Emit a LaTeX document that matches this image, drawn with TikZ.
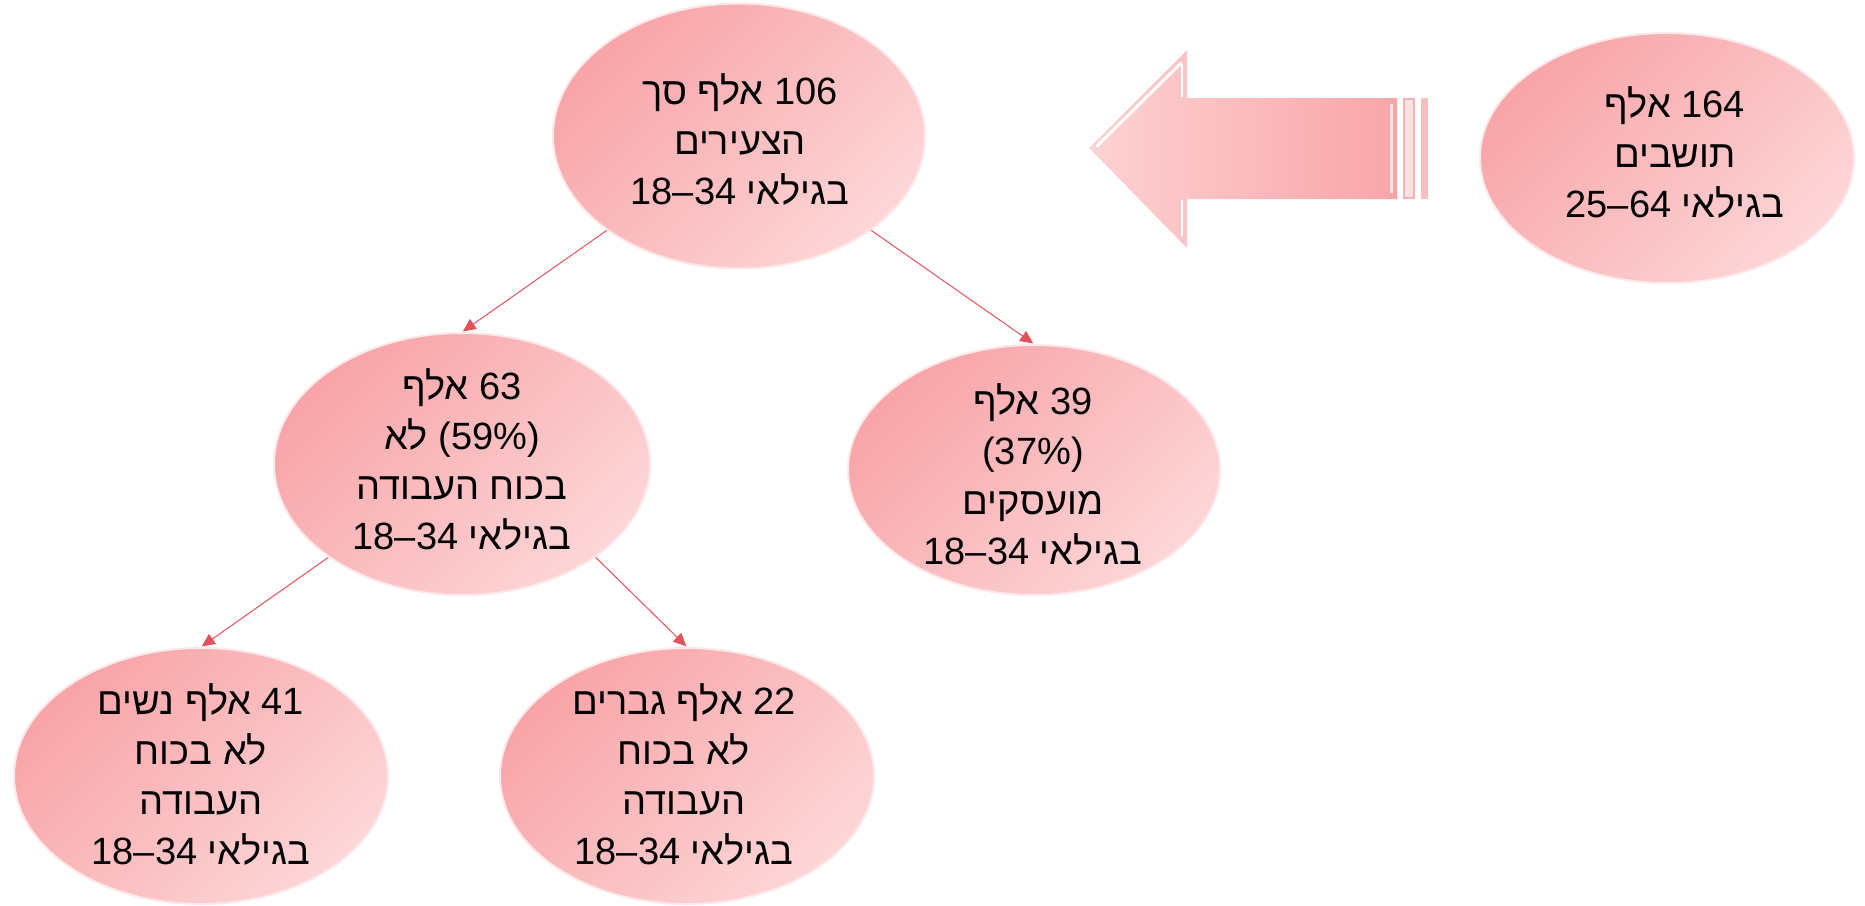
\documentclass[tikz,border=0pt]{standalone}
\usepackage{fontspec}
\setmainfont{Liberation Sans}
\newfontfamily\hebfont[Script=Hebrew]{Liberation Sans}
\newfontfamily\numfont{Liberation Sans}
\TeXXeTstate=1
\usetikzlibrary{shapes.geometric,arrows.meta}
\definecolor{pkdark}{RGB}{248,164,168}
\definecolor{pklight}{RGB}{253,214,215}
\definecolor{pkrim}{RGB}{253,232,233}
\definecolor{connred}{RGB}{226,82,90}
\definecolor{arrdark}{RGB}{249,165,168}
\definecolor{arrlight}{RGB}{253,210,211}
\definecolor{stripefill}{RGB}{252,226,227}
\definecolor{stripedraw}{RGB}{247,178,181}
\definecolor{stripetwo}{RGB}{249,190,192}
\newcommand\myR[1]{\beginR #1\endR}
\newcommand\myL[1]{\beginL{\numfont #1}\endL{}}
\tikzset{
  bubble/.style={ellipse, inner sep=0pt, top color=pkdark, bottom color=pklight,
    shading angle=45, draw=pkrim, line width=2pt},
  txt/.style={font=\hebfont\fontsize{38}{50}\selectfont, align=center, inner sep=0pt, text=black},
  conn/.style={draw=connred, line width=1pt, -{Triangle[length=13pt,width=12pt]}, shorten >=1pt}
}
\begin{document}
\begin{tikzpicture}[x=1pt,y=-1pt]
\useasboundingbox (0,0) rectangle (1865,905);

% big arrow
\path[left color=arrlight, right color=arrdark]
  (1089,148) -- (1187,50) -- (1187,98) -- (1397,98) -- (1397,199) -- (1187,199) -- (1187,248) -- cycle;
\draw[white, line width=3pt, line cap=round] (1097,146) -- (1181,63);
\draw[white, line width=2.5pt] (1182,64) -- (1182,97);
\draw[white, line width=2.5pt] (1182,200) -- (1182,236);
\draw[white, opacity=0.7, line width=3pt] (1391,104) -- (1391,193);
\draw[fill=stripefill, draw=stripedraw, line width=2pt] (1404,99) rectangle (1414,198);
\fill[stripetwo] (1421,98) rectangle (1428,199);

% ellipses
\node[bubble, minimum width=372pt, minimum height=265pt] (A) at (739,136) {};
\node[bubble, minimum width=374pt, minimum height=250pt] (R) at (1667,158) {};
\node[bubble, minimum width=376pt, minimum height=262pt] (B) at (462,464) {};
\node[bubble, minimum width=372pt, minimum height=250pt] (C) at (1034,470) {};
\node[bubble, minimum width=374pt, minimum height=256pt] (D) at (201,776) {};
\node[bubble, minimum width=374pt, minimum height=256pt] (E) at (687,776) {};

% texts
\node[txt] (At) at (740,139) {\myR{\myL{106} אלף סך}\\ \myR{הצעירים}\\ \myR{בגילאי \myL{18–34}}};
\node[txt] (Rt) at (1675,152) {\myR{\myL{164} אלף}\\ \myR{תושבים}\\ \myR{בגילאי \myL{25–64}}};
\node[txt] (Bt) at (462,459) {\myR{\myL{63} אלף}\\ \myR{\myL{(59\%)} לא}\\ \myR{בכוח העבודה}\\ \myR{בגילאי \myL{18–34}}};
\node[txt] (Ct) at (1033,474) {\myR{\myL{39} אלף}\\ \myR{\myL{(37\%)}}\\ \myR{מועסקים}\\ \myR{בגילאי \myL{18–34}}};
\node[txt] (Dt) at (201,774) {\myR{\myL{41} אלף נשים}\\ \myR{לא בכוח}\\ \myR{העבודה}\\ \myR{בגילאי \myL{18–34}}};
\node[txt] (Et) at (684,774) {\myR{\myL{22} אלף גברים}\\ \myR{לא בכוח}\\ \myR{העבודה}\\ \myR{בגילאי \myL{18–34}}};

% connectors
\draw[conn] (A.south west) -- (B.north);
\draw[conn] (A.south east) -- (C.north);
\draw[conn] (B.south west) -- (D.north);
\draw[conn] (B.south east) -- (E.north);
\end{tikzpicture}
\end{document}
